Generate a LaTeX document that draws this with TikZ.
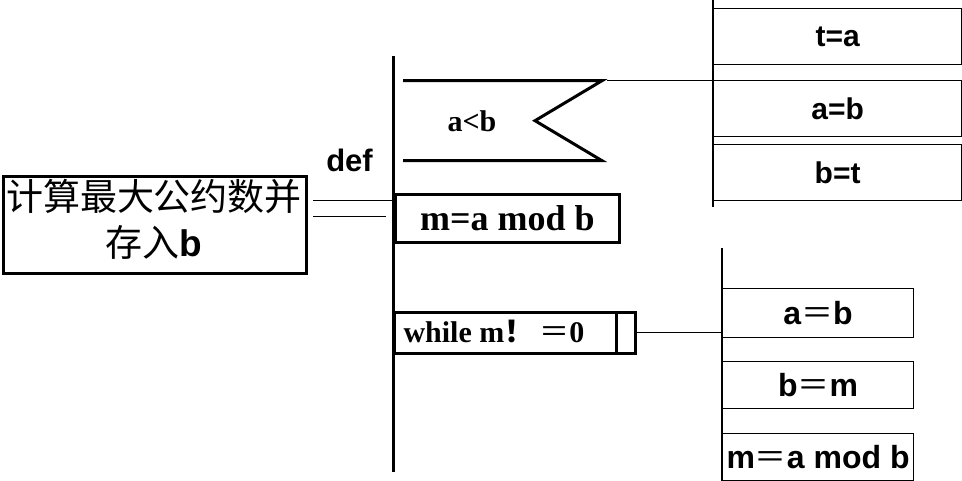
\documentclass[tikz,border=0pt]{standalone}
\usepackage{fontspec}
\setmainfont{Liberation Serif}
\setsansfont{Liberation Sans}
\newfontfamily\cjk{Noto Sans CJK SC}
\begin{document}
\begin{tikzpicture}[x=1pt,y=-1pt,
  thickline/.style={line width=3pt},
  thinline/.style={line width=1.2pt},
  conn/.style={line width=1pt},
  fbox/.style={draw,thickline,inner sep=0pt,anchor=north west},
  rbox/.style={draw,thinline,inner sep=0pt,anchor=north west},
  serifb/.style={font=\fontsize{#1}{#1}\selectfont\bfseries},
  sansb/.style={font=\fontsize{#1}{#1}\selectfont\sffamily\bfseries}]
\useasboundingbox (0,0) rectangle (962,481);

% left box
\node[fbox,minimum width=303pt,minimum height=97pt] (lbox) at (1.5,175) {};
\node[align=center,inner sep=0pt,font=\fontsize{37}{46}\selectfont] (ltext) at (154,219)
  {{\cjk 计算最大公约数并}\\{\cjk 存入}{\sffamily\bfseries b}};

\node[sansb=31,anchor=center] (def) at (349.5,160) {def};

% main vertical line
\coordinate (mtop) at (393.5,56);
\coordinate (mbot) at (393.5,472);
\draw[thickline] (mtop) -- (mbot);

% connectors from left box
\coordinate (c1a) at (313,200.7);
\coordinate (c2a) at (313,216.7);
\coordinate (c2b) at (386,216.7);
\draw[conn] (c1a) -- (c1a -| mtop);
\draw[conn] (c2a) -- (c2b);

% flag (a<b)
\coordinate (ftl) at (403,80.7);
\coordinate (ftr) at (602,80.7);
\coordinate (fn) at (535,120.7);
\coordinate (fbr) at (602,160.7);
\coordinate (fbl) at (403,160.7);
\draw[thickline,line join=miter] (ftl) -- (ftr) -- (fn) -- (fbr) -- (fbl);
\node[serifb=30,anchor=center] (cond) at (472,121) {a<b};

% m = a mod b
\node[fbox,minimum width=224pt,minimum height=48pt,serifb=36] (mod1) at (394,193) {m=a mod b};

% while box
\node[fbox,minimum width=241pt,minimum height=41pt] (wbox) at (393,311) {};
\draw[thickline] (616,311) -- (616,352);
\node[serifb=30,anchor=west] (wtext) at (400,331.5) {while m{\cjk ！}\,{\cjk\mdseries ＝}0};

% right top column
\coordinate (rtt) at (713,0);
\coordinate (rtb) at (713,207);
\draw[thinline] (rtt) -- (rtb);
\node[rbox,minimum width=248pt,minimum height=56pt,sansb=30] (ta) at (713,8) {t=a};
\node[rbox,minimum width=248pt,minimum height=56pt,sansb=30] (ab) at (713,80) {a=b};
\node[rbox,minimum width=248pt,minimum height=56pt,sansb=30] (bt) at (713,144) {b=t};
\coordinate (fl) at (607,80.5);
\draw[conn] (fl) -- (fl -| rtt);

% right bottom column
\coordinate (rbt) at (722,248);
\coordinate (rbb) at (722,481);
\draw[thinline] (rbt) -- (rbb);
\node[rbox,minimum width=191pt,minimum height=49pt,sansb=32] (ab2) at (722,288) {a{\cjk\mdseries ＝}b};
\node[rbox,minimum width=191pt,minimum height=47pt,sansb=32] (bm) at (722,361) {b{\cjk\mdseries ＝}m};
\node[rbox,minimum width=191pt,minimum height=47pt,sansb=32] (mod2) at (722,433) {m{\cjk\mdseries ＝}a mod b};
\draw[conn] (wbox.east) -- (wbox.east -| rbt);
\end{tikzpicture}
\end{document}
